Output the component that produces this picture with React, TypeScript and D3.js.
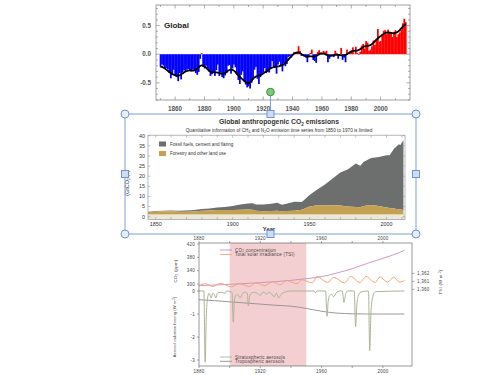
import React from "react";
import * as d3 from "d3";

// ---------- Panel 1: global temperature anomaly ----------
const tempStartYear = 1850;
const tempAnomaly = [
  -0.22, -0.18, -0.2, -0.25, -0.24, -0.26, -0.33, -0.42, -0.36, -0.27,
  -0.38, -0.4, -0.47, -0.33, -0.44, -0.32, -0.28, -0.3, -0.27, -0.26,
  -0.28, -0.3, -0.26, -0.28, -0.33, -0.36, -0.31, -0.08, 0.02, -0.22,
  -0.25, -0.2, -0.24, -0.3, -0.38, -0.35, -0.31, -0.38, -0.28, -0.18,
  -0.38, -0.32, -0.4, -0.42, -0.37, -0.33, -0.2, -0.19, -0.34, -0.25,
  -0.18, -0.23, -0.36, -0.45, -0.52, -0.36, -0.3, -0.47, -0.53, -0.58,
  -0.56, -0.6, -0.5, -0.44, -0.27, -0.22, -0.43, -0.52, -0.4, -0.34,
  -0.32, -0.24, -0.33, -0.31, -0.32, -0.24, -0.12, -0.22, -0.21, -0.34,
  -0.18, -0.13, -0.19, -0.3, -0.16, -0.21, -0.17, -0.05, -0.03, -0.06,
  0.0, 0.04, 0.02, 0.03, 0.14, 0.06, -0.03, -0.02, -0.04, -0.06,
  -0.14, -0.03, 0.02, 0.08, -0.1, -0.12, -0.15, 0.04, 0.07, 0.03,
  -0.01, 0.06, 0.04, 0.06, -0.14, -0.08, -0.03, -0.01, -0.05, 0.06,
  0.02, -0.08, -0.01, 0.11, -0.1, -0.06, -0.14, 0.08, 0.0, 0.04,
  0.07, 0.12, 0.01, 0.13, 0.02, -0.01, 0.04, 0.15, 0.18, 0.1,
  0.23, 0.2, 0.06, 0.08, 0.14, 0.24, 0.16, 0.27, 0.44, 0.22,
  0.23, 0.35, 0.41, 0.42, 0.35, 0.43, 0.39, 0.38, 0.3, 0.38,
  0.42, 0.3, 0.35, 0.38, 0.43, 0.54, 0.62, 0.56,
];
const tempTicksX = [1860, 1880, 1900, 1920, 1940, 1960, 1980, 2000];
const tempTicksY = [-0.5, 0.0, 0.5];

// ---------- Panel 2: CO2 emissions ----------
const emisYears = [1845, 1850, 1855, 1860, 1865, 1870, 1875, 1880, 1885, 1890, 1895, 1900, 1905, 1910, 1913, 1915, 1920, 1925, 1929, 1932, 1935, 1940, 1945, 1950, 1955, 1960, 1965, 1970, 1975, 1980, 1983, 1985, 1990, 1995, 2000, 2002, 2005, 2008, 2009, 2011];
const emisLandUse = [2.3, 2.5, 2.7, 2.7, 2.5, 2.5, 2.6, 2.9, 3.1, 3.3, 3.3, 3.3, 3.4, 3.5, 3.4, 3.0, 2.7, 2.8, 2.9, 2.7, 2.8, 3.0, 3.4, 5.0, 5.6, 5.5, 5.7, 5.5, 5.0, 4.8, 4.7, 5.3, 5.8, 5.3, 4.6, 4.3, 4.0, 3.6, 3.5, 3.3];
const emisFossil = [0.2, 0.3, 0.3, 0.4, 0.5, 0.6, 0.7, 0.9, 1.0, 1.2, 1.5, 2.0, 2.6, 3.0, 3.3, 3.0, 3.3, 3.6, 4.0, 3.2, 3.6, 4.4, 3.9, 5.7, 7.8, 10.4, 13.2, 16.3, 18.4, 21.5, 20.5, 21.7, 23.2, 24.2, 25.8, 26.0, 29.7, 32.2, 31.9, 34.5];
const emisTicksX = [1850, 1900, 1950, 2000];
const emisTicksY = [0, 5, 10, 15, 20, 25, 30, 35, 40];

// ---------- Panel 3: forcings ----------
const co2Years = [1880, 1900, 1920, 1940, 1950, 1960, 1970, 1980, 1990, 2000, 2010, 2014];
const co2Ppm = [295, 299, 304, 311, 316, 322, 333, 346, 362, 377, 393, 401];
const tsiYears = [1880, 1884, 1889, 1894, 1901, 1906, 1913, 1917, 1923, 1928, 1933, 1937, 1944, 1947, 1954, 1957, 1964, 1968, 1975, 1979, 1985, 1989, 1995, 1998, 2003, 2007, 2011, 2014];
const tsiValues = [1360.45, 1360.7, 1360.35, 1360.75, 1360.3, 1360.7, 1360.35, 1360.8, 1360.45, 1360.95, 1360.55, 1361.1, 1360.7, 1361.2, 1360.8, 1361.6, 1360.85, 1361.5, 1360.8, 1361.6, 1360.85, 1361.6, 1360.85, 1361.55, 1360.9, 1361.5, 1360.9, 1361.1];
const stratYears = [1880, 1883.2, 1884, 1884.8, 1885.6, 1886.5, 1888, 1889, 1890, 1891, 1892, 1894, 1897, 1898, 1901.5, 1902.4, 1903, 1903.8, 1905, 1907, 1908, 1910, 1911.5, 1912.2, 1913, 1914, 1916, 1918, 1920, 1921, 1922.5, 1924, 1925.5, 1927, 1929, 1930.5, 1932, 1933.5, 1936, 1940, 1955, 1956, 1957, 1962.6, 1963.6, 1964.3, 1965.2, 1966.5, 1968, 1969.5, 1972, 1973.5, 1974.6, 1975.6, 1977, 1981.3, 1982.2, 1983, 1984, 1985.5, 1990.6, 1991.4, 1992.2, 1993.2, 1995, 2014];
const stratForcing = [0, 0, -3.1, -1.0, -0.3, -0.1, -0.3, -0.1, -0.15, -0.3, -0.1, -0.05, -0.1, 0, -0.05, -1.35, -0.5, -0.2, -0.15, -0.3, -0.15, -0.05, -0.1, -0.65, -0.25, -0.1, -0.05, -0.1, -0.2, -0.1, -0.05, -0.15, -0.05, -0.1, -0.25, -0.1, -0.3, -0.15, -0.05, 0, 0, -0.08, 0, 0, -1.1, -0.45, -0.2, -0.15, -0.25, -0.08, 0, 0, -0.5, -0.15, 0, 0, -1.55, -0.6, -0.2, -0.05, 0, -2.6, -1.0, -0.3, -0.03, 0];
const tropYears = [1880, 1890, 1900, 1910, 1920, 1930, 1940, 1945, 1950, 1955, 1960, 1965, 1970, 1975, 1980, 1990, 2000, 2014];
const tropForcing = [-0.38, -0.42, -0.47, -0.52, -0.57, -0.62, -0.66, -0.7, -0.76, -0.82, -0.88, -0.93, -0.96, -0.98, -0.99, -1.0, -1.0, -1.0];
const co2TicksY = [300, 340, 380, 420];
const forcingTicksY = [0, -1, -2, -3];
const tsiTicksY = [1360, 1361, 1362];
const forcingTicksX = [1880, 1920, 1960, 2000];

const FONT = "'Liberation Sans', Arial, sans-serif";

function Panel1() {
  const x = d3.scaleLinear().domain([1847, 2020]).range([156, 410]);
  const y = d3.scaleLinear().domain([-0.8, 0.86]).range([100, 5]);
  const years = tempAnomaly.map((_, i) => tempStartYear + i);
  const bw = x(1) - x(0);
  const sigma = 2.5;
  const n = tempAnomaly.length;
  const smooth = tempAnomaly.map((_, i) => {
    let s = 0, w = 0;
    for (let j = Math.max(0, i - 8); j <= Math.min(n - 1, i + 8); j++) {
      const k = Math.exp(-((j - i) ** 2) / (2 * sigma * sigma));
      s += k * tempAnomaly[j];
      w += k;
    }
    return s / w;
  });
  const line = d3.line<number>().x((_, i) => x(years[i])).y((d) => y(d)).curve(d3.curveMonotoneX);
  const [x0, x1] = x.range();
  const [yb, yt] = y.range();
  const xMinor = d3.range(1850, 2020, 10);
  const yMinor = d3.range(-8, 9).map((v) => v / 10);
  const ax = "#8a8a8a";
  return (
    <g>
      {tempAnomaly.map((v, i) => (
        <rect key={i} x={x(years[i]) - bw / 2} width={bw + 0.3} y={Math.min(y(v), y(0))} height={Math.abs(y(v) - y(0))} fill={v >= 0 ? "#ff0000" : "#0000ff"} />
      ))}
      <path d={line(smooth) || ""} fill="none" stroke="#000" strokeWidth={1.8} />
      <rect x={x0} y={yt} width={x1 - x0} height={yb - yt} fill="none" stroke={ax} strokeWidth={0.8} />
      {xMinor.map((v) => (
        <g key={v}>
          <line x1={x(v)} x2={x(v)} y1={yb} y2={yb - (v % 20 === 0 ? 3.5 : 2)} stroke={ax} strokeWidth={0.7} />
          <line x1={x(v)} x2={x(v)} y1={yt} y2={yt + (v % 20 === 0 ? 3.5 : 2)} stroke={ax} strokeWidth={0.7} />
        </g>
      ))}
      {yMinor.map((v) => (
        <g key={v}>
          <line x1={x0} x2={x0 + (Math.abs(v * 10) % 5 === 0 ? 3.5 : 2)} y1={y(v)} y2={y(v)} stroke={ax} strokeWidth={0.7} />
          <line x1={x1} x2={x1 - (Math.abs(v * 10) % 5 === 0 ? 3.5 : 2)} y1={y(v)} y2={y(v)} stroke={ax} strokeWidth={0.7} />
        </g>
      ))}
      {tempTicksY.map((v) => (
        <text key={v} x={x0 - 5} y={y(v)} dy="0.35em" textAnchor="end" fontSize={6.3} fill="#555" fontWeight="bold">
          {v.toFixed(1)}
        </text>
      ))}
      {tempTicksX.map((v) => (
        <text key={v} x={x(v)} y={yb + 10.5} textAnchor="middle" fontSize={6.3} fill="#555" fontWeight="bold">
          {v}
        </text>
      ))}
      <text x={x0 + 8} y={27.5} fontSize={8} fontWeight="bold" fill="#222">Global</text>
    </g>
  );
}

function Panel2() {
  const x = d3.scaleLinear().domain([1845, 2012]).range([148, 405]);
  const y = d3.scaleLinear().domain([0, 40]).range([216.7, 135.7]);
  const [x0, x1] = x.range();
  const yt = y(40) - 0.5;
  const yb = 219.5;
  const idx = emisYears.map((_, i) => i);
  const landArea = d3.area<number>().x((i) => x(emisYears[i])).y0(() => y(0)).y1((i) => y(emisLandUse[i]));
  const fossArea = d3.area<number>().x((i) => x(emisYears[i])).y0((i) => y(emisLandUse[i])).y1((i) => y(emisLandUse[i] + emisFossil[i]));
  const ax = "#9a9a9a";
  const minorX = d3.range(1850, 2011, 10);
  return (
    <g fontFamily={FONT}>
      <text x={279} y={124} textAnchor="middle" fontSize={6.8} fontWeight="bold" fill="#333">
        Global anthropogenic CO<tspan fontSize={4.6} dy={1.5}>2</tspan><tspan dy={-1.5}> emissions</tspan>
      </text>
      <text x={279} y={131.5} textAnchor="middle" fontSize={4.7} fill="#333">
        Quantitative information of CH<tspan fontSize={3.3} dy={1}>4</tspan><tspan dy={-1}> and N</tspan><tspan fontSize={3.3} dy={1}>2</tspan><tspan dy={-1}>O emission time series from 1850 to 1970 is limited</tspan>
      </text>
      <path d={fossArea(idx) || ""} fill="#6d6e6e" />
      <path d={landArea(idx) || ""} fill="#c3a052" />
      <rect x={x0} y={214.3} width={x1 - x0} height={yb - 214.3} fill="#ece7d6" />
      <rect x={x0} y={yt} width={x1 - x0} height={yb - yt} fill="none" stroke={ax} strokeWidth={0.7} />
      {emisTicksY.map((v) => (
        <g key={v}>
          <line x1={x0} x2={x0 + 2.5} y1={y(v)} y2={y(v)} stroke={ax} strokeWidth={0.6} />
          <line x1={x1} x2={x1 - 2.5} y1={y(v)} y2={y(v)} stroke={ax} strokeWidth={0.6} />
          <text x={x0 - 3} y={y(v)} dy="0.35em" textAnchor="end" fontSize={5.4} fill="#333">{v}</text>
        </g>
      ))}
      {minorX.map((v) => (
        <g key={v}>
          <line x1={x(v)} x2={x(v)} y1={yb} y2={yb - 2.5} stroke={ax} strokeWidth={0.6} />
          <line x1={x(v)} x2={x(v)} y1={yt} y2={yt + 2.5} stroke={ax} strokeWidth={0.6} />
        </g>
      ))}
      {emisTicksX.map((v) => (
        <text key={v} x={x(v)} y={226} textAnchor="middle" fontSize={5.4} fill="#333">{v}</text>
      ))}
      <text x={269} y={231} textAnchor="middle" fontSize={5.8} fontWeight="bold" fill="#333">Year</text>
      <text transform="translate(129,183) rotate(-90)" textAnchor="middle" fontSize={5.4} fill="#333">
        (GtCO<tspan fontSize={3.8} dy={1}>2</tspan><tspan dy={-1}>/yr)</tspan>
      </text>
      <rect x={159} y={141.5} width={7} height={5} fill="#6d6e6e" />
      <text x={170} y={145.8} fontSize={4.6} fill="#333">Fossil fuels, cement and flaring</text>
      <rect x={159} y={151} width={7} height={5} fill="#c3a052" />
      <text x={170} y={155.3} fontSize={4.6} fill="#333">Forestry and other land use</text>
    </g>
  );
}

function Panel3() {
  const x = d3.scaleLinear().domain([1880, 2019]).range([199, 412]);
  const co2Y = d3.scaleLinear().domain([300, 420]).range([284, 244]);
  const fY = d3.scaleLinear().domain([-3, 0]).range([360, 291]);
  const tY = d3.scaleLinear().domain([1360, 1362]).range([289.3, 273.3]);
  const [x0, x1] = x.range();
  const yt = 243, yb = 366;
  const co2Line = d3.line<number>().x((i) => x(co2Years[i])).y((i) => co2Y(co2Ppm[i])).curve(d3.curveMonotoneX);
  const tsiLine = d3.line<number>().x((i) => x(tsiYears[i])).y((i) => tY(tsiValues[i])).curve(d3.curveMonotoneX);
  const stLine = d3.line<number>().x((i) => x(stratYears[i])).y((i) => fY(stratForcing[i])).curve(d3.curveMonotoneX);
  const trLine = d3.line<number>().x((i) => x(tropYears[i])).y((i) => fY(tropForcing[i])).curve(d3.curveMonotoneX);
  const ax = "#555";
  const tx = "#444";
  const fs = 4.5;
  const minorX = d3.range(1880, 2019, 20);
  const cCO2 = "#c98cbf", cTSI = "#f5a578", cSt = "#aab595", cTr = "#8e8e8e";
  return (
    <g fontFamily={FONT} letterSpacing={0.25}>
      <rect x={x(1900)} y={yt} width={x(1950) - x(1900)} height={yb - yt} fill="#f4cfd1" />
      <path d={trLine(tropYears.map((_, i) => i)) || ""} fill="none" stroke={cTr} strokeWidth={0.9} />
      <path d={stLine(stratYears.map((_, i) => i)) || ""} fill="none" stroke={cSt} strokeWidth={1} />
      <path d={co2Line(co2Years.map((_, i) => i)) || ""} fill="none" stroke={cCO2} strokeWidth={0.9} />
      <path d={tsiLine(tsiYears.map((_, i) => i)) || ""} fill="none" stroke={cTSI} strokeWidth={1} />
      <rect x={x0} y={yt} width={x1 - x0} height={yb - yt} fill="none" stroke={ax} strokeWidth={0.6} />
      {minorX.map((v) => (
        <g key={v}>
          <line x1={x(v)} x2={x(v)} y1={yb} y2={yb + 2} stroke={ax} strokeWidth={0.5} />
          <line x1={x(v)} x2={x(v)} y1={yt} y2={yt - 2} stroke={ax} strokeWidth={0.5} />
        </g>
      ))}
      {forcingTicksX.map((v) => (
        <g key={v}>
          <text x={x(v)} y={yb + 6.5} textAnchor="middle" fontSize={fs} fill={tx}>{v}</text>
          <text x={x(v)} y={yt - 3} textAnchor="middle" fontSize={fs} fill={tx}>{v}</text>
        </g>
      ))}
      {co2TicksY.map((v) => (
        <g key={v}>
          <line x1={x0} x2={x0 - 2} y1={co2Y(v)} y2={co2Y(v)} stroke={ax} strokeWidth={0.5} />
          <text x={x0 - 4} y={co2Y(v)} dy="0.35em" textAnchor="end" fontSize={fs} fill={tx}>{v}</text>
        </g>
      ))}
      {forcingTicksY.map((v) => (
        <g key={v}>
          <line x1={x0} x2={x0 - 2} y1={fY(v)} y2={fY(v)} stroke={ax} strokeWidth={0.5} />
          <text x={x0 - 4} y={fY(v)} dy="0.35em" textAnchor="end" fontSize={fs} fill={tx}>{v}</text>
        </g>
      ))}
      {tsiTicksY.map((v) => (
        <g key={v}>
          <line x1={x1} x2={x1 + 2.5} y1={tY(v)} y2={tY(v)} stroke={ax} strokeWidth={0.5} />
          <text x={x1 + 5} y={tY(v)} dy="0.35em" fontSize={fs} fill={tx}>{d3.format(",")(v)}</text>
        </g>
      ))}
      <text transform="translate(177,271) rotate(-90)" textAnchor="middle" fontSize={4.3} fill={tx}>
        CO<tspan fontSize={3} dy={0.8}>2</tspan><tspan dy={-0.8}> (ppm)</tspan>
      </text>
      <text transform="translate(176,327) rotate(-90)" textAnchor="middle" fontSize={4} fill={tx} letterSpacing={0.1}>
        Aerosol radiative forcing (W m<tspan fontSize={2.8} dy={-1.5}>-2</tspan><tspan dy={1.5}>)</tspan>
      </text>
      <text transform="translate(442,282) rotate(-90)" textAnchor="middle" fontSize={4.3} fill={tx}>
        TSI (W m<tspan fontSize={3} dy={-1.5}>-2</tspan><tspan dy={1.5}>)</tspan>
      </text>
      <line x1={220} x2={232} y1={250} y2={250} stroke={cCO2} strokeWidth={0.9} />
      <text x={235} y={251.6} fontSize={fs} fill={tx}>
        CO<tspan fontSize={3} dy={0.8}>2</tspan><tspan dy={-0.8}> concentration</tspan>
      </text>
      <line x1={220} x2={232} y1={254.5} y2={254.5} stroke={cTSI} strokeWidth={0.9} />
      <text x={235} y={256.1} fontSize={fs} fill={tx}>Total solar irradiance (TSI)</text>
      <line x1={220} x2={232} y1={357} y2={357} stroke={cSt} strokeWidth={0.9} />
      <text x={235} y={358.6} fontSize={fs} fill={tx}>Stratospheric aerosols</text>
      <line x1={220} x2={232} y1={361.3} y2={361.3} stroke={cTr} strokeWidth={0.9} />
      <text x={235} y={362.9} fontSize={fs} fill={tx}>Tropospheric aerosols</text>
    </g>
  );
}

function Selection() {
  const L = 125, R = 416, T = 114, B = 234;
  const mx = 270.5, my = (T + B) / 2;
  const blue = "#6f95d6";
  const circ = (cx: number, cy: number, k: string) => (
    <circle key={k} cx={cx} cy={cy} r={4} fill="#e6eefc" stroke={blue} strokeWidth={1} />
  );
  const sq = (cx: number, cy: number, k: string) => (
    <rect key={k} x={cx - 3.5} y={cy - 3.5} width={7} height={7} fill="#cfdcf5" stroke={blue} strokeWidth={1} />
  );
  return (
    <g>
      <rect x={L} y={T} width={R - L} height={B - T} fill="none" stroke={blue} strokeWidth={0.9} />
      <line x1={mx} x2={mx} y1={95.5} y2={T} stroke={blue} strokeWidth={0.9} />
      <circle cx={mx} cy={92} r={3.8} fill="#7cc77c" stroke="#3f8f3f" strokeWidth={1} />
      {circ(L, T, "a")}
      {circ(R, T, "b")}
      {circ(L, B, "c")}
      {circ(R, B, "d")}
      {sq(mx, T, "e")}
      {sq(L, my, "f")}
      {sq(R, my, "g")}
      {sq(mx, B, "h")}
    </g>
  );
}

export default function App() {
  return (
    <svg width={500} height={375} viewBox="0 0 500 375" style={{ position: "absolute", left: 0, top: 0, display: "block" }} fontFamily={FONT}>
      <rect width={500} height={375} fill="#fff" />
      <Panel1 />
      <Panel2 />
      <Panel3 />
      <Selection />
    </svg>
  );
}
